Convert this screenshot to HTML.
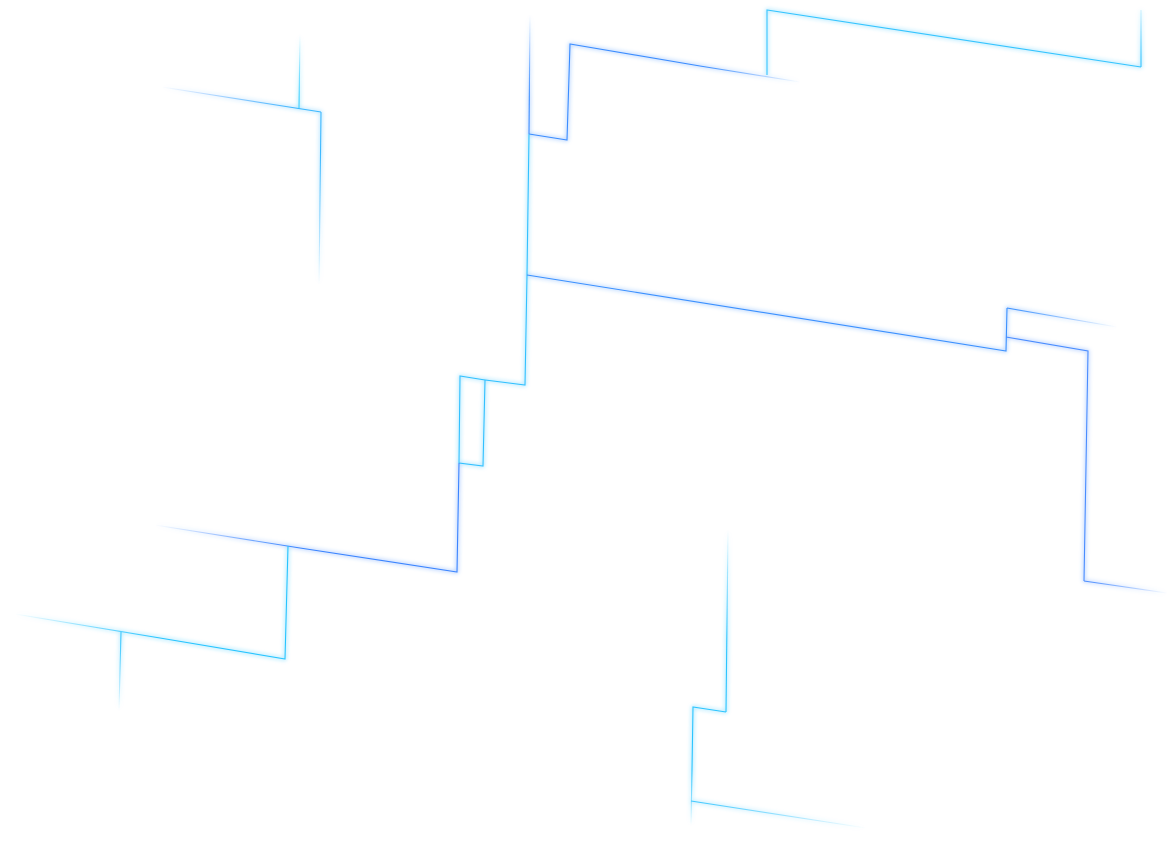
<!DOCTYPE html>
<html><head><meta charset="utf-8"><style>html,body{margin:0;background:#fff;}svg{display:block}</style></head>
<body>
<svg width="1173" height="850" viewBox="0 0 1173 850" xmlns="http://www.w3.org/2000/svg">
<defs>
<filter id="g" x="-10%" y="-10%" width="120%" height="120%"><feGaussianBlur stdDeviation="2" result="b"/><feMerge><feMergeNode in="b"/><feMergeNode in="SourceGraphic"/></feMerge></filter>
<linearGradient id="f1" gradientUnits="userSpaceOnUse" x1="530" y1="15" x2="530" y2="100"><stop offset="0" stop-color="#3a8cff" stop-opacity="0"/><stop offset="1" stop-color="#3a8cff"/></linearGradient>
<linearGradient id="f2" gradientUnits="userSpaceOnUse" x1="800" y1="82" x2="700" y2="66"><stop offset="0" stop-color="#3a8cff" stop-opacity="0"/><stop offset="1" stop-color="#3a8cff"/></linearGradient>
<linearGradient id="f3" gradientUnits="userSpaceOnUse" x1="300" y1="35" x2="299" y2="100"><stop offset="0" stop-color="#3cd0ff" stop-opacity="0"/><stop offset="1" stop-color="#3cd0ff"/></linearGradient>
<linearGradient id="f4" gradientUnits="userSpaceOnUse" x1="162" y1="87" x2="300" y2="109"><stop offset="0" stop-color="#3a8cff" stop-opacity="0"/><stop offset="1" stop-color="#3cb8ff"/></linearGradient>
<linearGradient id="f5" gradientUnits="userSpaceOnUse" x1="319" y1="285" x2="320" y2="150"><stop offset="0" stop-color="#3cb8ff" stop-opacity="0"/><stop offset="1" stop-color="#3cb8ff"/></linearGradient>
<linearGradient id="f6" gradientUnits="userSpaceOnUse" x1="155" y1="525" x2="300" y2="548"><stop offset="0" stop-color="#3a84ff" stop-opacity="0"/><stop offset="1" stop-color="#3a84ff"/></linearGradient>
<linearGradient id="f7" gradientUnits="userSpaceOnUse" x1="15" y1="614" x2="160" y2="638"><stop offset="0" stop-color="#28c4ff" stop-opacity="0"/><stop offset="1" stop-color="#28c4ff"/></linearGradient>
<linearGradient id="f8" gradientUnits="userSpaceOnUse" x1="119" y1="710" x2="121" y2="640"><stop offset="0" stop-color="#3cc8ff" stop-opacity="0"/><stop offset="1" stop-color="#3cc8ff"/></linearGradient>
<linearGradient id="f9" gradientUnits="userSpaceOnUse" x1="1117" y1="327" x2="1007" y2="308"><stop offset="0" stop-color="#3a90ff" stop-opacity="0"/><stop offset="1" stop-color="#3a90ff"/></linearGradient>
<linearGradient id="f10" gradientUnits="userSpaceOnUse" x1="1167" y1="593" x2="1084" y2="581"><stop offset="0" stop-color="#4a8cff" stop-opacity="0"/><stop offset="1" stop-color="#4a8cff"/></linearGradient>
<linearGradient id="f11" gradientUnits="userSpaceOnUse" x1="728" y1="530" x2="727" y2="640"><stop offset="0" stop-color="#2cc4ff" stop-opacity="0"/><stop offset="1" stop-color="#2cc4ff"/></linearGradient>
<linearGradient id="f12" gradientUnits="userSpaceOnUse" x1="691" y1="825" x2="692" y2="770"><stop offset="0" stop-color="#2cc4ff" stop-opacity="0"/><stop offset="1" stop-color="#2cc4ff"/></linearGradient>
<linearGradient id="f13" gradientUnits="userSpaceOnUse" x1="866" y1="828" x2="691" y2="801"><stop offset="0" stop-color="#40c8ff" stop-opacity="0"/><stop offset="1" stop-color="#40c8ff"/></linearGradient>
<linearGradient id="f14" gradientUnits="userSpaceOnUse" x1="1141" y1="10" x2="1141" y2="60"><stop offset="0" stop-color="#34c4ff" stop-opacity="0.2"/><stop offset="1" stop-color="#34c4ff"/></linearGradient>
</defs>
<g fill="none" stroke-width="1.1" filter="url(#g)">
<path d="M530 15 L529 134" stroke="url(#f1)"/>
<path d="M529 134 L567 140 L570 44 L700 66" stroke="#3a8cff"/>
<path d="M700 66 L800 82" stroke="url(#f2)"/>
<path d="M767 75 L767 10 L1141 67" stroke="#34c4ff"/>
<path d="M1141 67 L1141 10" stroke="url(#f14)"/>
<path d="M300 35 L299 108" stroke="url(#f3)"/>
<path d="M162 87 L321 112" stroke="url(#f4)"/>
<path d="M321 112 L319 285" stroke="url(#f5)"/>
<path d="M529 134 L527 275 L525 385 L485 380 L483 466 L459 463 L460 376 L485 380" stroke="#30c0ff"/>
<path d="M459 463 L457 572 L300 548" stroke="#3a84ff"/>
<path d="M300 548 L155 525" stroke="url(#f6)"/>
<path d="M288 546 L285 659 L160 638" stroke="#28c4ff"/>
<path d="M160 638 L15 614" stroke="url(#f7)"/>
<path d="M121 632 L119 710" stroke="url(#f8)"/>
<path d="M527 275 L1006 351 L1007 308" stroke="#3a90ff"/>
<path d="M1007 308 L1117 327" stroke="url(#f9)"/>
<path d="M1006 337 L1088 351 L1084 581" stroke="#4a8cff"/>
<path d="M1084 581 L1167 593" stroke="url(#f10)"/>
<path d="M728 530 L726 712" stroke="url(#f11)"/>
<path d="M726 712 L693 707 L692 770" stroke="#2cc4ff"/>
<path d="M692 770 L691 825" stroke="url(#f12)"/>
<path d="M691 801 L866 828" stroke="url(#f13)"/>
</g>
</svg>
</body></html>
